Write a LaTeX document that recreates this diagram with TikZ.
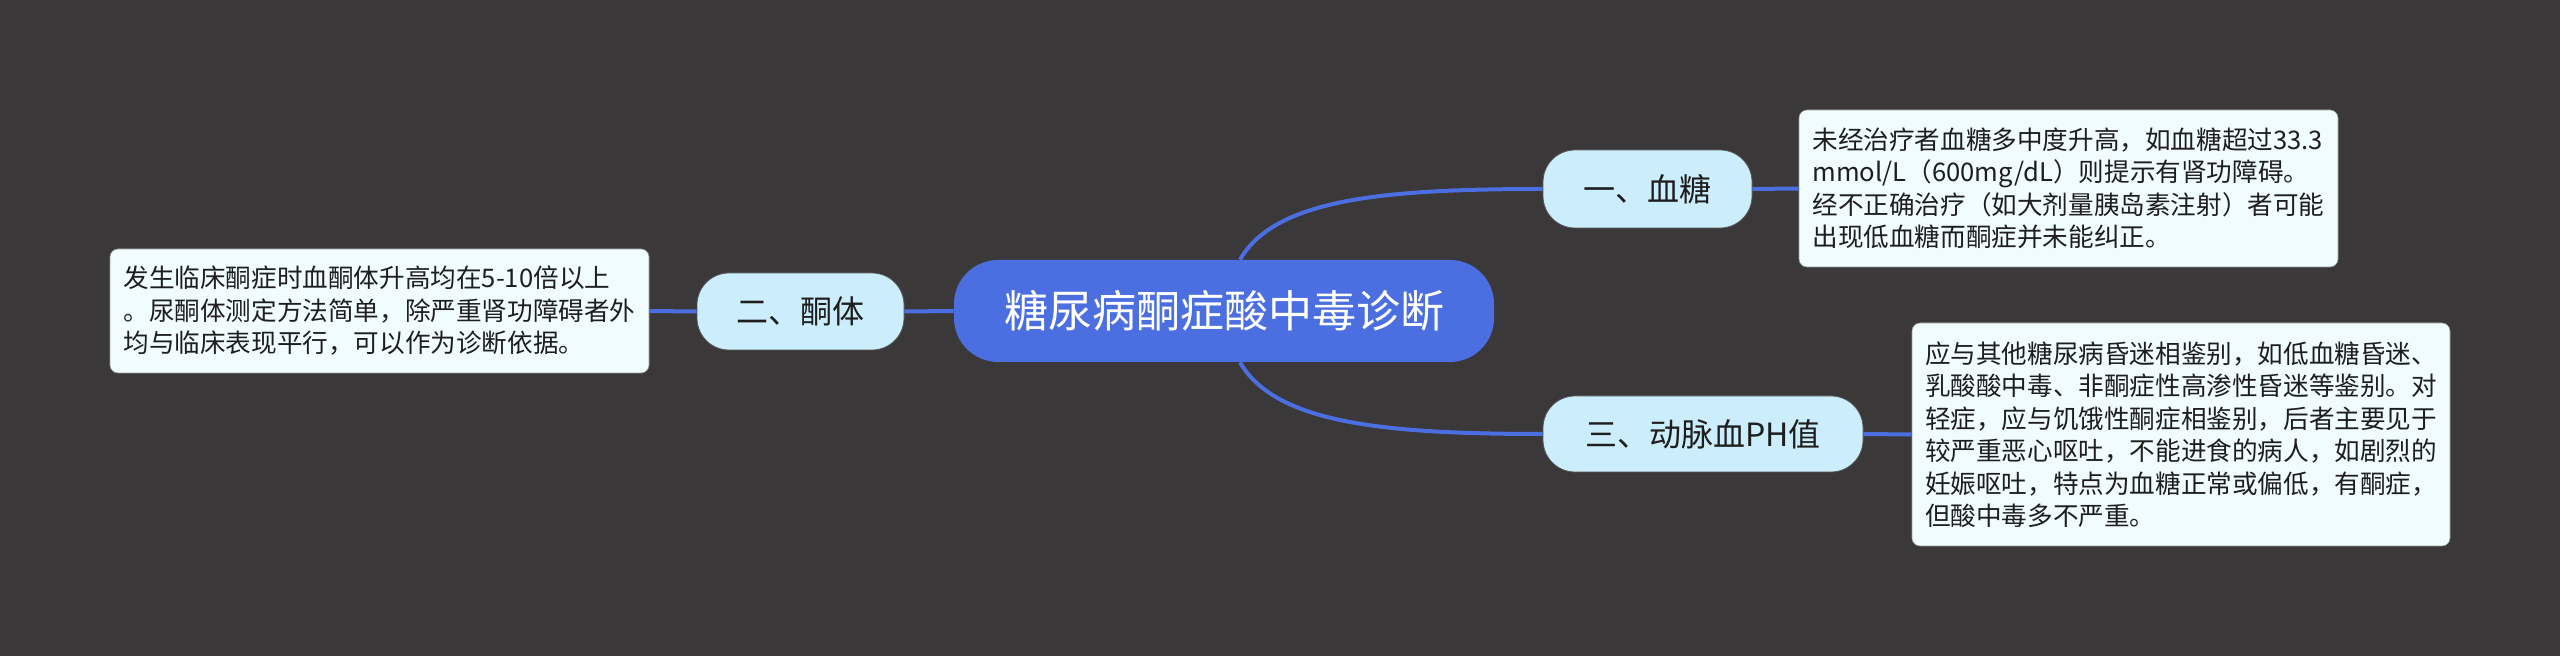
\documentclass[tikz,border=0pt]{standalone}
\usepackage{fontspec}
\setmainfont{Noto Sans CJK SC}
\definecolor{bg}{HTML}{3A3839}
\definecolor{mainblue}{HTML}{4B6EE0}
\definecolor{branchfill}{HTML}{CCEEFC}
\definecolor{leaffill}{HTML}{F0FCFE}
\definecolor{inkdark}{HTML}{1E1E1E}
\begin{document}
\begin{tikzpicture}[x=0.5pt,y=-0.5pt,
  rootbox/.style={fill=mainblue, rounded corners=22pt, text=white,
    font=\fontsize{22pt}{26pt}\selectfont, minimum width=270pt,
    minimum height=51pt, inner sep=0pt},
  branchbox/.style={fill=branchfill, draw=black!65, line width=0.4pt,
    rounded corners=16pt, text=inkdark, font=\fontsize{16pt}{20pt}\selectfont,
    inner sep=0pt},
  leafbox/.style={fill=leaffill, draw=black!40, line width=0.3pt,
    rounded corners=4pt, text=inkdark,
    font=\fontsize{12.8pt}{16.25pt}\selectfont, align=left, inner sep=0pt},
  link/.style={draw=mainblue, line width=2pt}]
\useasboundingbox (0,0) rectangle (2560,656);
\fill[bg] (0,0) rectangle (2560,656);

\node[rootbox] (c) at (1224,311) {糖尿病酮症酸中毒诊断};

\node[branchbox, minimum width=104.5pt, minimum height=39pt] (b1) at (1647.5,189) {一、血糖};
\node[branchbox, minimum width=103.5pt, minimum height=38.5pt] (b2) at (800.5,311.5) {二、酮体};
\node[branchbox, minimum width=160pt, minimum height=38pt] (b3) at (1703,434) {三、动脉血PH值};

\node[leafbox, minimum width=269.5pt, minimum height=78.5pt] (t1) at (2068.5,188.5)
  {未经治疗者血糖多中度升高，如血糖超过33.3\\
   mmol/L（600mg/dL）则提示有肾功障碍。\\
   经不正确治疗（如大剂量胰岛素注射）者可能\\
   出现低血糖而酮症并未能纠正。};
\node[leafbox, minimum width=269.5pt, minimum height=62pt] (t2) at (379.5,311)
  {发生临床酮症时血酮体升高均在5-10倍以上\\
   。尿酮体测定方法简单，除严重肾功障碍者外\\
   均与临床表现平行，可以作为诊断依据。};
\node[leafbox, minimum width=269pt, minimum height=111.5pt] (t3) at (2181,434.5)
  {应与其他糖尿病昏迷相鉴别，如低血糖昏迷、\\
   乳酸酸中毒、非酮症性高渗性昏迷等鉴别。对\\
   轻症，应与饥饿性酮症相鉴别，后者主要见于\\
   较严重恶心呕吐，不能进食的病人，如剧烈的\\
   妊娠呕吐，特点为血糖正常或偏低，有酮症，\\
   但酸中毒多不严重。};

\draw[link] ([xshift=8pt]c.north) .. controls +(35,-60) and +(-163,0) .. (b1.west);
\draw[link] ([xshift=8pt]c.south) .. controls +(35,60) and +(-163,0) .. (b3.west);
\draw[link] (c.west) -- (b2.east);
\draw[link] (b2.west) -- (t2.east);
\draw[link] (b1.east) -- (t1.west);
\draw[link] (b3.east) -- (t3.west);
\end{tikzpicture}
\end{document}
